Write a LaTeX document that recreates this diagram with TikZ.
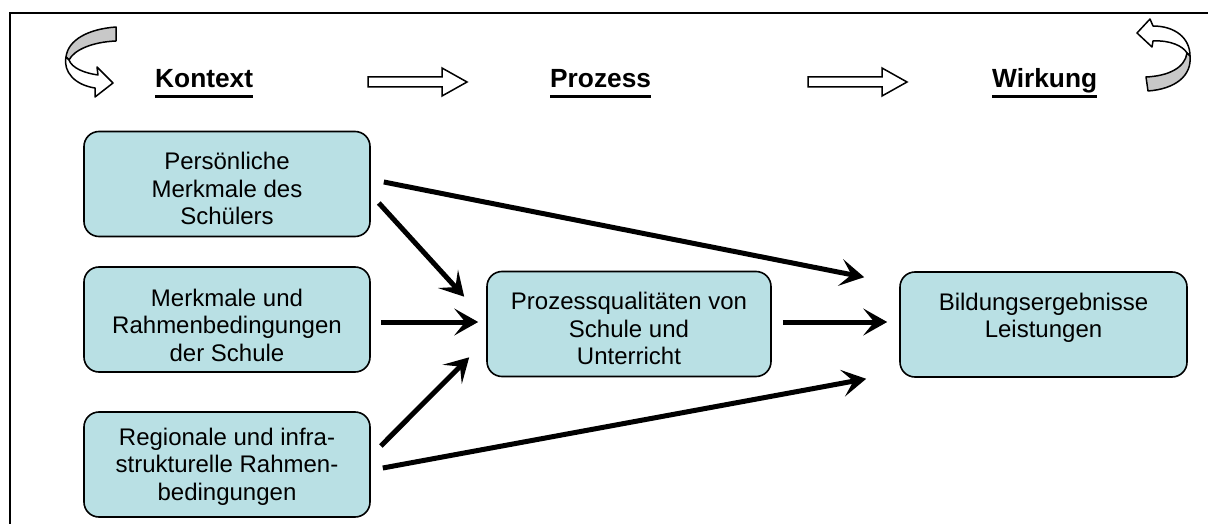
\documentclass[tikz,border=0pt]{standalone}
\usepackage{fontspec}
\setmainfont{Liberation Sans}
\usetikzlibrary{arrows.meta,calc}
\definecolor{boxfill}{RGB}{185,224,228}
\definecolor{ribbon}{RGB}{200,200,200}
% box text: fixed-height block, top aligned with a given gap above the first line
\newcommand{\boxtext}[2]{\parbox[c][105pt][t]{264pt}{\centering\vspace*{#1}#2\par}}
\begin{document}
\begin{tikzpicture}[x=1pt,y=-1pt,
  box/.style={draw=black, line width=1.6pt, fill=boxfill, rounded corners=15pt,
    minimum width=286pt, minimum height=105pt, inner sep=0pt,
    font=\fontsize{24}{27.5}\selectfont},
  flow/.style={line width=5pt, -{Stealth[length=24pt,width=27pt,inset=11pt]}},
  head/.style={font=\fontsize{26.3}{30}\selectfont\bfseries, anchor=base west, inner sep=0pt},
  ul/.style={line width=3pt},
  blockarrow/.style={draw=black, line width=1.5pt, fill=white, line join=miter},
  curl/.style={draw=black, line width=1.5pt, line join=round}
]
\useasboundingbox (0,0) rectangle (1208,524);

% outer frame (only top and left edges lie inside the page)
\draw[line width=2pt] (10,530) -- (10,13) -- (1215,13);

% column headings
\node[head] (k) at (155,88) {Kontext};
\node[head] (p) at (550,88) {Prozess};
\node[head] (w) at (992,88) {Wirkung};
\foreach \h in {k,p,w}
  \draw[ul] ($(\h.base west)+(0,8.5)$) -- ($(\h.base east)+(0,8.5)$);

% hollow block arrows between headings
\draw[blockarrow] (368,77) -- (442,77) -- (442,68) -- (467,82) -- (442,96) -- (442,87) -- (368,87) -- cycle;
\draw[blockarrow] (808,77) -- (882,77) -- (882,68) -- (907,82) -- (882,96) -- (882,87) -- (808,87) -- cycle;

% curled arrow, top left
\draw[curl, fill=ribbon] (116,27) .. controls (88,29) and (68,40) .. (66,57)
  -- (69,60) .. controls (74,50) and (92,42) .. (116,41) -- cycle;
\draw[curl, fill=white] (66,57) .. controls (63,72) and (75,85) .. (95,88)
  -- (95,97) -- (113,83) -- (97,67) -- (98,75)
  .. controls (84,73) and (72,68) .. (69,60) -- cycle;

% curled arrow, top right
\draw[curl, fill=white] (1137,33) -- (1150,19) -- (1153,26)
  .. controls (1175,26) and (1190,38) .. (1190,56)
  -- (1187,53) .. controls (1183,46) and (1170,40) .. (1153,41)
  -- (1152,47) -- cycle;
\draw[curl, fill=ribbon] (1187,53) .. controls (1185,68) and (1168,76) .. (1146,77)
  -- (1148,91) .. controls (1175,89) and (1192,76) .. (1190,56) -- cycle;

% context boxes
\node[box] (p1) at (227,184) {\boxtext{21pt}{Persönliche\\Merkmale des\\Schülers}};
\node[box] (p2) at (227,319.5) {\boxtext{22pt}{Merkmale und\\Rahmenbedingungen\\der Schule}};
\node[box] (p3) at (227,464.5) {\boxtext{16pt}{Regionale und infra-\\strukturelle Rahmen-\\bedingungen}};
% process box
\node[box, minimum width=284pt] (pq) at (629,324)
  {\boxtext{21pt}{Prozessqualitäten von\\Schule und\\Unterricht}};
% outcome box
\node[box, minimum width=287pt] (be) at (1043.5,324.5) {\boxtext{21pt}{Bildungsergebnisse\\Leistungen}};

% influence arrows
\draw[flow] ($(p1.east)+(13,-2)$) -- ($(be.north west)+(-35,6)$);
\draw[flow] ($(p1.east)+(8,19)$) -- ($(pq.north west)+(-22,26)$);
\draw[flow] ($(p2.east)+(10,2.5)$) -- ($(pq.west)+(-8,-2)$);
\draw[flow] ($(pq.east)+(11,-2)$) -- ($(be.west)+(-12,-2.5)$);
\draw[flow] ($(p3.east)+(10,-18.5)$) -- ($(pq.south west)+(-17,-20)$);
\draw[flow] ($(p3.east)+(12,3.5)$) -- ($(be.south west)+(-33,1)$);
\end{tikzpicture}
\end{document}
